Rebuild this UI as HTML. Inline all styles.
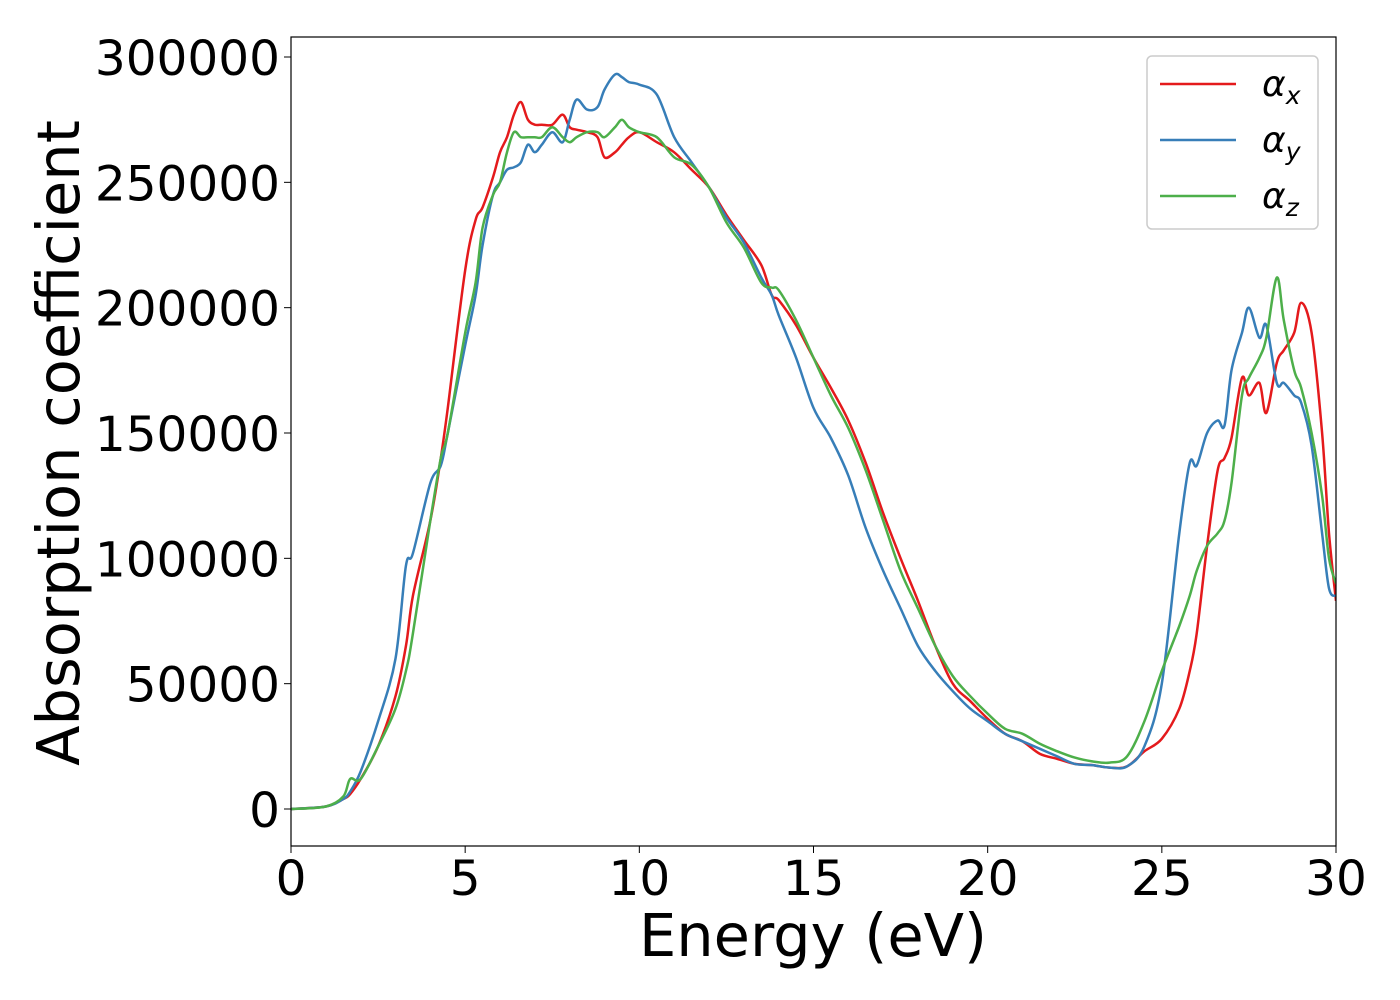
<!DOCTYPE html>
<html><head><meta charset="utf-8"><style>
body{margin:0;background:#fff}
svg{display:block;font-family:"DejaVu Sans","Liberation Sans",sans-serif}
</style></head><body>
<svg id="chart" width="1400" height="1000">
<rect x="0" y="0" width="1400" height="1000" fill="#fff"/>
<g id="plot"></g>
<g id="axes"></g>
<text x="813" y="956" font-size="59" text-anchor="middle">Energy (eV)</text>
<text transform="translate(79,443) rotate(-90)" font-size="59" text-anchor="middle">Absorption coefficient</text>
<g>
<rect x="1147" y="56" width="171" height="173" rx="5" fill="#fff" stroke="#ccc" stroke-width="1.5"/>
<g><line x1="1160" y1="84" x2="1236" y2="84" stroke="#e41a1c" stroke-width="2.5"/><text x="1262" y="96" font-size="36" font-style="italic">α<tspan font-size="25" dy="8">x</tspan></text></g>
<g><line x1="1160" y1="140" x2="1236" y2="140" stroke="#377eb8" stroke-width="2.5"/><text x="1262" y="152" font-size="36" font-style="italic">α<tspan font-size="25" dy="8">y</tspan></text></g>
<g><line x1="1160" y1="196" x2="1236" y2="196" stroke="#4daf4a" stroke-width="2.5"/><text x="1262" y="208" font-size="36" font-style="italic">α<tspan font-size="25" dy="8">z</tspan></text></g>
</g>
</svg>
<script>
const xTicks=[0,5,10,15,20,25,30];
const yTicks=[0,50000,100000,150000,200000,250000,300000];
const xE=[0,1,1.5,1.7,2,2.5,3,3.3,3.5,4,4.3,4.5,5,5.3,5.5,5.8,6,6.2,6.4,6.6,6.8,7,7.2,7.5,7.8,8,8.2,8.5,8.8,9,9.3,9.5,9.7,10,10.5,11,11.5,12,12.5,13,13.5,13.8,14,14.5,15,15.5,16,16.5,17,17.5,18,18.5,19,19.5,20,20.5,21,21.5,22,22.5,23,23.5,24,24.5,25,25.5,25.8,26,26.3,26.6,26.8,27,27.3,27.5,27.8,28,28.3,28.5,28.8,29,29.3,29.6,29.8,30];
const alphaX=[0,1000,4000,6000,12000,25000,45000,65000,85000,115000,140000,160000,215000,235000,240000,252000,262000,268000,277000,282000,275000,273000,273000,273000,277000,272000,271000,270000,268000,260000,262000,265000,268000,270000,266000,262000,255000,248000,237000,227000,217000,205000,203000,193000,180000,168000,155000,138000,118000,100000,83000,65000,50000,43000,36000,30000,27000,22000,20000,18000,17500,16500,17000,23000,28000,40000,55000,70000,105000,135000,140000,148000,172000,165000,170000,158000,178000,183000,190000,202000,190000,150000,110000,83000];
const alphaY=[0,1000,4000,7000,15000,35000,60000,97000,102000,130000,137000,150000,185000,205000,225000,245000,250000,255000,256000,258000,265000,262000,265000,270000,266000,275000,283000,279000,280000,287000,293000,292000,290000,289000,285000,268000,258000,248000,236000,226000,212000,205000,197000,180000,160000,148000,133000,112000,95000,80000,65000,55000,47000,40000,35000,30000,27000,24000,21000,18000,17500,16500,17000,25000,50000,110000,138000,137000,150000,155000,153000,175000,190000,200000,188000,193000,170000,170000,165000,162000,145000,110000,88000,85000];
const alphaZ=[0,1000,5000,12000,12000,25000,40000,55000,70000,115000,140000,150000,190000,210000,232000,245000,250000,262000,270000,268000,268000,268000,268000,272000,268000,266000,268000,270000,270000,268000,272000,275000,272000,270000,268000,260000,257000,248000,234000,224000,210000,208000,207000,195000,180000,165000,152000,135000,115000,95000,80000,65000,53000,45000,38000,32000,30000,26000,23000,20500,19000,18500,21000,35000,55000,73000,85000,95000,105000,110000,115000,130000,165000,172000,180000,188000,212000,195000,175000,168000,150000,125000,100000,90000];
const X0=291,X1=1336,Y0=809,Y300=57,T=37,B=846;
const sx=v=>X0+(v-0)/30*(X1-X0);
const sy=v=>Y0+(v/300000)*(Y300-Y0);
const NS="http://www.w3.org/2000/svg";
const plot=document.getElementById('plot'),axes=document.getElementById('axes');
function pathFor(xs,ys){
  const p=xs.map((x,i)=>[sx(x),sy(ys[i])]);
  let d="M"+p[0][0].toFixed(1)+","+p[0][1].toFixed(1);
  for(let i=0;i<p.length-1;i++){
    const a=p[Math.max(0,i-1)],b=p[i],c=p[i+1],e=p[Math.min(p.length-1,i+2)];
    const c1=[b[0]+(c[0]-a[0])/6,b[1]+(c[1]-a[1])/6],c2=[c[0]-(e[0]-b[0])/6,c[1]-(e[1]-b[1])/6];
    d+=`C${c1[0].toFixed(1)},${c1[1].toFixed(1)} ${c2[0].toFixed(1)},${c2[1].toFixed(1)} ${c[0].toFixed(1)},${c[1].toFixed(1)}`;
  }
  return d;
}
const clip=document.createElementNS(NS,'clipPath');clip.id='cp';
const cr=document.createElementNS(NS,'rect');cr.setAttribute('x',X0);cr.setAttribute('y',T);cr.setAttribute('width',X1-X0);cr.setAttribute('height',B-T);
clip.appendChild(cr);document.getElementById('chart').appendChild(clip);
plot.setAttribute('clip-path','url(#cp)');
[[alphaX,'#e41a1c','series-alpha-x'],[alphaY,'#377eb8','series-alpha-y'],[alphaZ,'#4daf4a','series-alpha-z']].forEach(([ys,c,n])=>{
  const el=document.createElementNS(NS,'path');
  el.setAttribute('d',pathFor(xE,ys));el.setAttribute('fill','none');el.setAttribute('stroke',c);el.setAttribute('stroke-width','2.5');
  
  
  plot.appendChild(el);
});
const fr=document.createElementNS(NS,'rect');
fr.setAttribute('x',X0);fr.setAttribute('y',T);fr.setAttribute('width',X1-X0);fr.setAttribute('height',B-T);fr.setAttribute('fill','none');fr.setAttribute('stroke','#000');fr.setAttribute('stroke-width','1.2');


axes.appendChild(fr);
xTicks.forEach(v=>{
  const l=document.createElementNS(NS,'line');l.setAttribute('x1',sx(v));l.setAttribute('x2',sx(v));l.setAttribute('y1',B);l.setAttribute('y2',B+7);l.setAttribute('stroke','#000');
  
  
  axes.appendChild(l);
  const t=document.createElementNS(NS,'text');t.setAttribute('x',sx(v));t.setAttribute('y',895);t.setAttribute('font-size','48.5');t.setAttribute('text-anchor','middle');t.textContent=v;
  
  
  axes.appendChild(t);
});
yTicks.forEach(v=>{
  const l=document.createElementNS(NS,'line');l.setAttribute('x1',X0-7);l.setAttribute('x2',X0);l.setAttribute('y1',sy(v));l.setAttribute('y2',sy(v));l.setAttribute('stroke','#000');
  
  
  axes.appendChild(l);
  const t=document.createElementNS(NS,'text');t.setAttribute('x',280);t.setAttribute('y',sy(v)+18);t.setAttribute('font-size','48.5');t.setAttribute('text-anchor','end');t.textContent=v;
  
  
  axes.appendChild(t);
});
</script>
</body></html>
